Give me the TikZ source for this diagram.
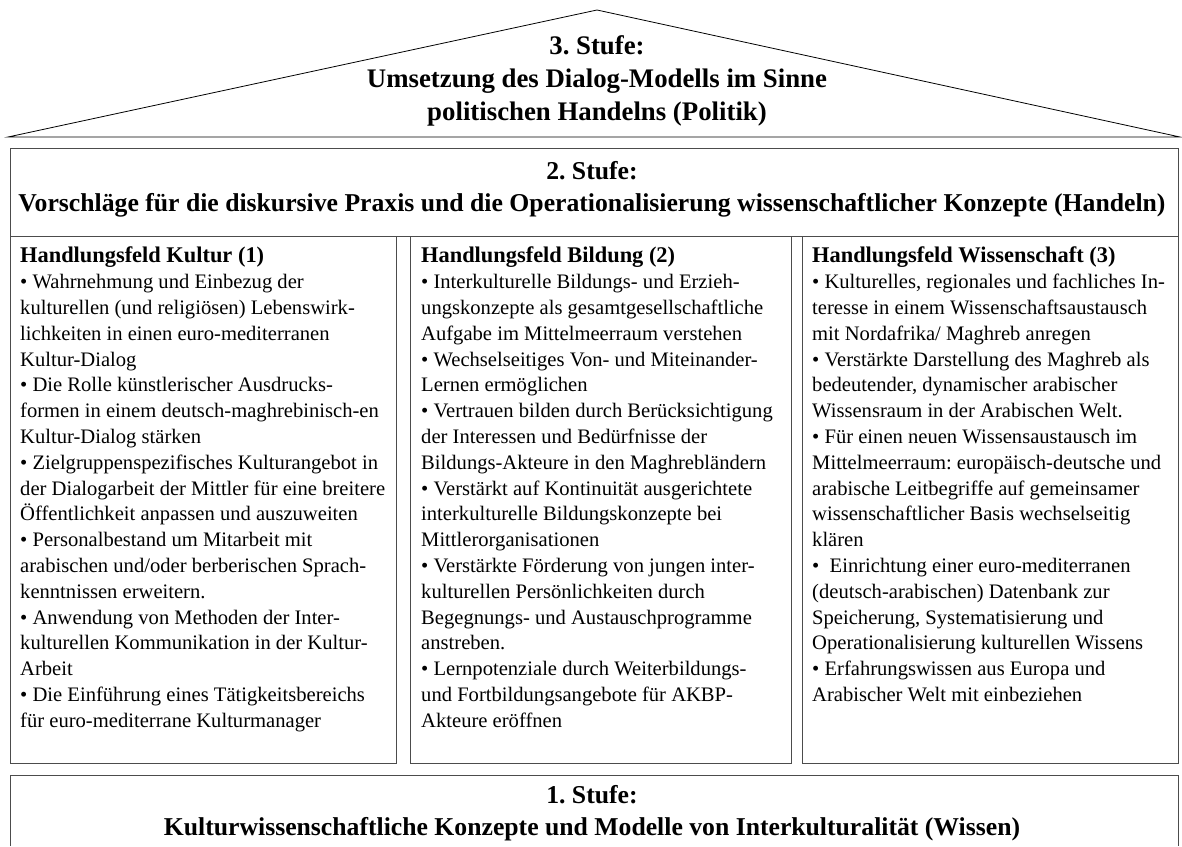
\documentclass[tikz,border=0pt]{standalone}
\usepackage{fontspec}
\setmainfont{Liberation Serif}
\frenchspacing
\begin{document}
\begin{tikzpicture}[x=1pt,y=-1pt,
    rahmen/.style={draw=black!70, line width=1pt},
    stufe/.style={font=\fontsize{25.7}{32}\selectfont\bfseries, align=center, inner sep=0pt},
    feld/.style={font=\fontsize{20.6}{25.8}\selectfont, align=left, anchor=north west, inner sep=0pt}]
    \useasboundingbox (0,0) rectangle (1182,846);
    % Dach
    \draw[line width=0.8pt] (8,137) -- (597,10) -- (1180,137) -- cycle;
    \node[stufe, font=\fontsize{26.8}{33}\selectfont\bfseries] (st3) at (597,81)
      {3. Stufe:\\Umsetzung des Dialog-Modells im Sinne\\politischen Handelns (Politik)};
    % 2. Stufe
    \draw[rahmen] (10,148) rectangle (1178,236);
    \node[stufe] (st2) at (592,189)
      {2. Stufe:\\Vorschläge für die diskursive Praxis und die Operationalisierung wissenschaftlicher Konzepte (Handeln)};
    \foreach \xa/\xb in {10/396, 410/791, 802/1178}
    {
      \draw[rahmen] (\xa,236) rectangle (\xb,763);
    }
    \node[feld] (kultur) at (20,247) {%
      {\fontsize{22.4}{25.8}\selectfont\bfseries Handlungsfeld Kultur (1)}\\
      • Wahrnehmung und Einbezug der\\
      kulturellen (und religiösen) Lebenswirk-\\
      lichkeiten in einen euro-mediterranen\\
      Kultur-Dialog\\
      • Die Rolle künstlerischer Ausdrucks-\\
      formen in einem deutsch-maghrebinisch-en\\
      Kultur-Dialog stärken\\
      • Zielgruppenspezifisches Kulturangebot in\\
      der Dialogarbeit der Mittler für eine breitere\\
      Öffentlichkeit anpassen und auszuweiten\\
      • Personalbestand um Mitarbeit mit\\
      arabischen und/oder berberischen Sprach-\\
      kenntnissen erweitern.\\
      • Anwendung von Methoden der Inter-\\
      kulturellen Kommunikation in der Kultur-\\
      Arbeit\\
      • Die Einführung eines Tätigkeitsbereichs\\
      für euro-mediterrane Kulturmanager};
    \node[feld] (bildung) at (421,247) {%
      {\fontsize{22.4}{25.8}\selectfont\bfseries Handlungsfeld Bildung (2)}\\
      • Interkulturelle Bildungs- und Erzieh-\\
      ungskonzepte als gesamtgesellschaftliche\\
      Aufgabe im Mittelmeerraum verstehen\\
      • Wechselseitiges Von- und Miteinander-\\
      Lernen ermöglichen\\
      • Vertrauen bilden durch Berücksichtigung\\
      der Interessen und Bedürfnisse der\\
      Bildungs-Akteure in den Maghrebländern\\
      • Verstärkt auf Kontinuität ausgerichtete\\
      interkulturelle Bildungskonzepte bei\\
      Mittlerorganisationen\\
      • Verstärkte Förderung von jungen inter-\\
      kulturellen Persönlichkeiten durch\\
      Begegnungs- und Austauschprogramme\\
      anstreben.\\
      • Lernpotenziale durch Weiterbildungs-\\
      und Fortbildungsangebote für AKBP-\\
      Akteure eröffnen};
    \node[feld] (wissenschaft) at (812,247) {%
      {\fontsize{22.4}{25.8}\selectfont\bfseries Handlungsfeld Wissenschaft (3)}\\
      • Kulturelles, regionales und fachliches In-\\
      teresse in einem Wissenschaftsaustausch\\
      mit Nordafrika/ Maghreb anregen\\
      • Verstärkte Darstellung des Maghreb als\\
      bedeutender, dynamischer arabischer\\
      Wissensraum in der Arabischen Welt.\\
      • Für einen neuen Wissensaustausch im\\
      Mittelmeerraum: europäisch-deutsche und\\
      arabische Leitbegriffe auf gemeinsamer\\
      wissenschaftlicher Basis wechselseitig\\
      klären\\
      •~ Einrichtung einer euro-mediterranen\\
      (deutsch-arabischen) Datenbank zur\\
      Speicherung, Systematisierung und\\
      Operationalisierung kulturellen Wissens\\
      • Erfahrungswissen aus Europa und\\
      Arabischer Welt mit einbeziehen};
    % 1. Stufe
    \draw[rahmen] (10,846) |- (1178,775) -- (1178,846);
    \node[stufe] (st1) at (592,813)
      {1. Stufe:\\Kulturwissenschaftliche Konzepte und Modelle von Interkulturalität (Wissen)};
\end{tikzpicture}
\end{document}
